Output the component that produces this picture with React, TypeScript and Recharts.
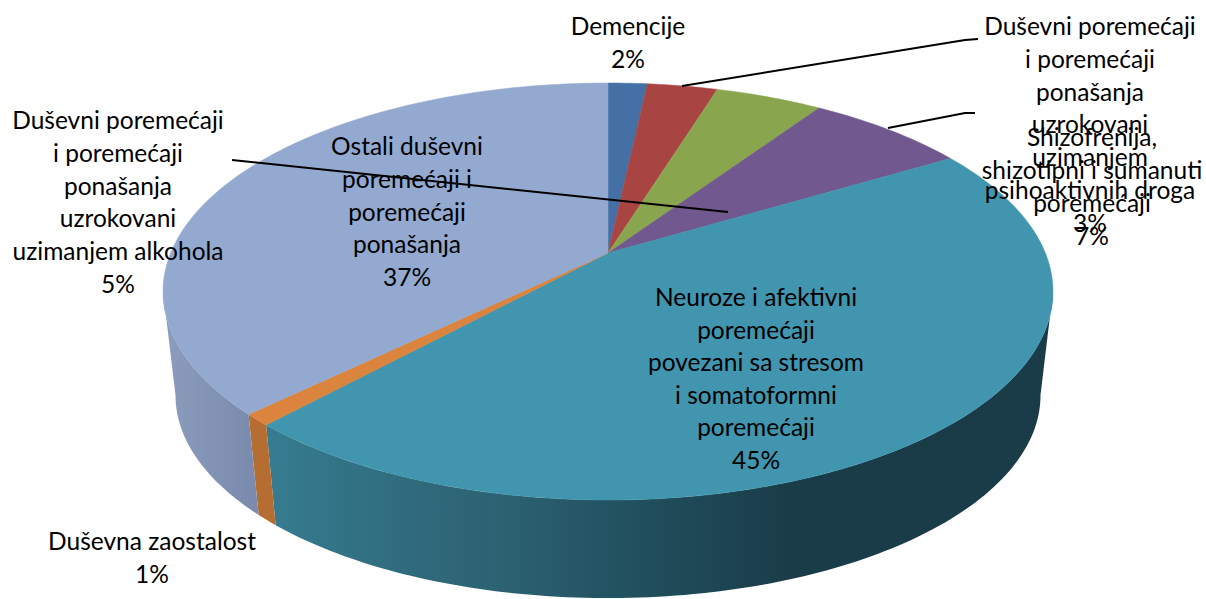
import { PieChart, Pie } from "recharts";

const categories = [
  "Demencije",
  "Duševni poremećaji i poremećaji ponašanja uzrokovani uzimanjem psihoaktivnih droga",
  "Duševni poremećaji i poremećaji ponašanja uzrokovani uzimanjem alkohola",
  "Shizofrenija, shizotipni i sumanuti poremećaji",
  "Neuroze i afektivni poremećaji povezani sa stresom i somatoformni poremećaji",
  "Duševna zaostalost",
  "Ostali duševni poremećaji i poremećaji ponašanja",
];
const values = [1.7, 3.05, 4.65, 7.0, 45.4, 0.9, 37.3];
const colors = ["#4470a5", "#a84542", "#89a54e", "#71588f", "#4195ae", "#db843d", "#93a9cf"];

// how each label is wrapped, as in the picture
const labelLines = [
  ["Demencije"],
  ["Duševni poremećaji", "i poremećaji", "ponašanja", "uzrokovani", "uzimanjem", "psihoaktivnih droga"],
  ["Duševni poremećaji", "i poremećaji", "ponašanja", "uzrokovani", "uzimanjem alkohola"],
  ["Shizofrenija,", "shizotipni i sumanuti", "poremećaji"],
  ["Neuroze i afektivni", "poremećaji", "povezani sa stresom", "i somatoformni", "poremećaji"],
  ["Duševna zaostalost"],
  ["Ostali duševni", "poremećaji i", "poremećaji", "ponašanja"],
];

const data = categories.map((name, i) => ({ name, value: values[i], fill: colors[i] }));

const WIDTH = 1206;
const HEIGHT = 599;
const CX = 608;
const CY = 253;
const FONT = "Lato, sans-serif";
const FONT_SIZE = 24.5;

// perspective of the tilted disc
const K = 0.1847;
const A = 437.3;
const B = 201.4;
const WALL_SCALE = 0.972;
const WALL_DROP = 105;
const FRONT_FROM = 100.6;
const FRONT_TO = 259.4;

const labelPos = [
  { x: 628, y: 27, step: 33 },
  { x: 1090, y: 27, step: 32.8 },
  { x: 118, y: 121, step: 32.8 },
  { x: 1092, y: 138, step: 33 },
  { x: 756, y: 298, step: 32.6 },
  { x: 152, y: 542, step: 33 },
  { x: 407, y: 147, step: 32.8 },
];

const leaderLines: Record<number, string> = {
  1: "682,86 965,40 978,39",
  2: "728,212 232,160",
  3: "888,128 965,113 975,113",
};

const wallStops: Record<number, [number, string][]> = {
  4: [[267, "#367c90"], [400, "#306c7e"], [500, "#2c6272"], [640, "#214f5e"], [790, "#1a3c48"]],
  5: [[247, "#b66d32"], [275, "#b66d32"]],
  6: [[165, "#8b9cbd"], [250, "#7a8bad"]],
};

// clockwise degrees from the top -> point on the pie's top face
const project = (deg: number) => {
  const t = (deg * Math.PI) / 180;
  const u = Math.sin(t);
  const v = -Math.cos(t);
  const w = 1 - K * v;
  return { x: (A * u) / w, y: (B * v) / w };
};

const arcPoints = (from: number, to: number) => {
  const pts = [];
  const n = Math.max(2, Math.ceil(to - from));
  for (let i = 0; i <= n; i++) pts.push(project(from + ((to - from) * i) / n));
  return pts;
};

const Slice3D = (props: any) => {
  const { cx, cy, startAngle, endAngle, fill, index } = props;
  const from = 90 - startAngle;
  const to = 90 - endAngle;
  const top = arcPoints(from, to);
  const topPath =
    `M${cx},${cy} ` + top.map((p) => `L${cx + p.x},${cy + p.y}`).join(" ") + " Z";

  const wallFrom = Math.max(from, FRONT_FROM);
  const wallTo = Math.min(to, FRONT_TO);
  let wall = null;
  if (wallTo > wallFrom && wallStops[index]) {
    const edge = arcPoints(wallFrom, wallTo);
    const upper = edge.map((p) => `${cx + p.x},${cy + p.y}`);
    const lower = edge
      .map((p) => `${cx + p.x * WALL_SCALE},${cy + p.y * WALL_SCALE + WALL_DROP}`)
      .reverse();
    const stops = wallStops[index];
    wall = (
      <>
        <defs>
          <linearGradient
            id={`wall-${index}`}
            gradientUnits="userSpaceOnUse"
            x1={stops[0][0]}
            x2={stops[stops.length - 1][0]}
            y1={0}
            y2={0}
          >
            {stops.map(([x, c]) => (
              <stop
                key={x}
                offset={(x - stops[0][0]) / (stops[stops.length - 1][0] - stops[0][0])}
                stopColor={c}
              />
            ))}
          </linearGradient>
        </defs>
        <polygon points={[...upper, ...lower].join(" ")} fill={`url(#wall-${index})`} />
      </>
    );
  }

  return (
    <g>
      {wall}
      <path d={topPath} fill={fill} stroke={fill} strokeWidth={0.5} />
    </g>
  );
};

const renderLabel = (props: any) => {
  const { index, percent } = props;
  const pos = labelPos[index];
  const lines = [...labelLines[index], `${Math.round(percent * 100)}%`];
  return (
    <text
      key={index}
      textAnchor="middle"
      fontFamily={FONT}
      fontSize={FONT_SIZE}
      fill="#000"
    >
      {lines.map((line, i) => (
        <tspan key={i} x={pos.x} y={pos.y + 8 + i * pos.step}>
          {line}
        </tspan>
      ))}
    </text>
  );
};

const renderLine = (props: any) => {
  const pts = leaderLines[props.index];
  if (!pts) return <g key={props.index} />;
  return <polyline key={props.index} points={pts} fill="none" stroke="#000" strokeWidth={2} />;
};

export default function App() {
  return (
    <div style={{ position: "fixed", left: 0, top: 0, width: WIDTH, height: HEIGHT, background: "#fff" }}>
      <PieChart width={WIDTH} height={HEIGHT} margin={{ top: 0, right: 0, bottom: 0, left: 0 }}>
        <Pie
          data={data}
          dataKey="value"
          nameKey="name"
          cx={CX}
          cy={CY}
          outerRadius={200}
          startAngle={90}
          endAngle={-270}
          stroke="none"
          shape={Slice3D}
          label={renderLabel}
          labelLine={renderLine}
          isAnimationActive={false}
        />
      </PieChart>
    </div>
  );
}
